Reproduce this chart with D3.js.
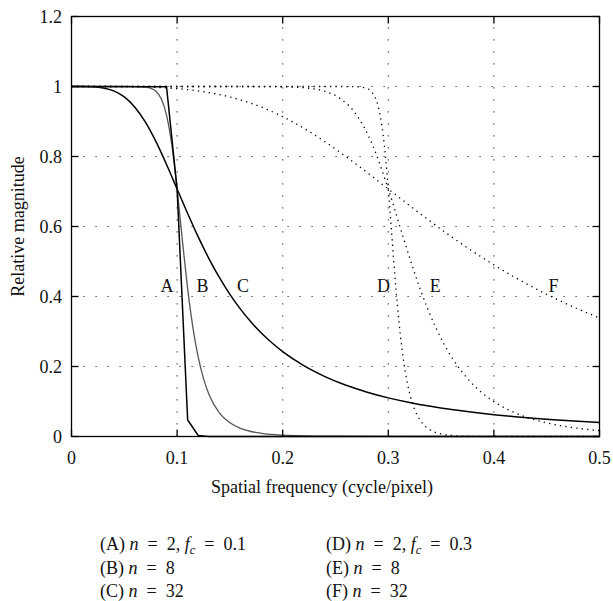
<!DOCTYPE html>
<html><head><meta charset="utf-8">
<script src="https://cdn.jsdelivr.net/npm/d3@7"></script>
<style>
html,body{margin:0;padding:0;background:#fff;}
svg text{font-family:"Liberation Serif","DejaVu Serif",serif;fill:#111;}
</style></head>
<body><svg id="c" width="613" height="601"></svg>
<script>
// ---- data ----
const xTicks = [0, 0.1, 0.2, 0.3, 0.4, 0.5];
const xTickLabels = ["0", "0.1", "0.2", "0.3", "0.4", "0.5"];
const yTicks = [0, 0.2, 0.4, 0.6, 0.8, 1.0, 1.2];
const yTickLabels = ["0", "0.2", "0.4", "0.6", "0.8", "1", "1.2"];

const freqA = [0, 0.09, 0.10, 0.11, 0.12, 0.13, 0.5];
const magA  = [1, 0.9994, 0.7071, 0.0473, 0.0029, 0.0002, 0];

const freqB = [0, 0.05, 0.06, 0.07, 0.075, 0.08, 0.085, 0.09, 0.095, 0.1, 0.105, 0.11, 0.115, 0.12, 0.125, 0.13, 0.14, 0.15, 0.16, 0.17, 0.18, 0.2, 0.22, 0.25, 0.3, 0.4, 0.5];
const magB  = [1, 1, 0.9999, 0.9983, 0.9950, 0.9862, 0.9648, 0.9185, 0.8333, 0.7071, 0.5605, 0.4227, 0.3107, 0.2266, 0.1655, 0.1217, 0.0676, 0.0390, 0.0233, 0.0143, 0.0091, 0.0039, 0.0018, 0.0007, 0.0002, 0, 0];

const freqC = [0, 0.01, 0.02, 0.03, 0.04, 0.05, 0.06, 0.07, 0.08, 0.09, 0.10, 0.11, 0.12, 0.13, 0.14, 0.15, 0.16, 0.17, 0.18, 0.19, 0.20, 0.22, 0.24, 0.26, 0.28, 0.30, 0.32, 0.34, 0.36, 0.38, 0.40, 0.42, 0.44, 0.46, 0.48, 0.50];
const magC  = [1, 1, 0.9992, 0.9960, 0.9874, 0.9701, 0.9409, 0.8980, 0.8423, 0.7771, 0.7071, 0.6372, 0.5704, 0.5092, 0.4545, 0.4061, 0.3639, 0.3270, 0.2949, 0.2670, 0.2425, 0.2023, 0.1711, 0.1463, 0.1266, 0.1104, 0.0972, 0.0862, 0.0769, 0.0691, 0.0624, 0.0566, 0.0516, 0.0472, 0.0434, 0.0400];

const freqD = [0, 0.25, 0.27, 0.28, 0.285, 0.29, 0.295, 0.2975, 0.3, 0.3025, 0.305, 0.31, 0.315, 0.32, 0.325, 0.33, 0.34, 0.35, 0.36, 0.38, 0.4, 0.5];
const magD  = [1, 1, 0.9994, 0.9940, 0.9817, 0.9475, 0.8637, 0.7942, 0.7071, 0.6085, 0.5077, 0.3305, 0.2054, 0.1258, 0.0770, 0.0473, 0.0182, 0.0072, 0.0029, 0.0005, 0.0001, 0];

const freqE = [0, 0.15, 0.18, 0.21, 0.225, 0.24, 0.255, 0.27, 0.285, 0.3, 0.315, 0.33, 0.345, 0.36, 0.375, 0.39, 0.405, 0.42, 0.435, 0.45, 0.465, 0.48, 0.5];
const magE  = [1, 1, 0.9999, 0.9983, 0.9950, 0.9862, 0.9648, 0.9185, 0.8333, 0.7071, 0.5605, 0.4227, 0.3107, 0.2266, 0.1655, 0.1217, 0.0903, 0.0676, 0.0511, 0.0390, 0.0300, 0.0233, 0.0169];

const freqF = [0, 0.03, 0.06, 0.09, 0.12, 0.15, 0.18, 0.21, 0.24, 0.27, 0.3, 0.33, 0.36, 0.39, 0.42, 0.45, 0.48, 0.5];
const magF  = [1, 1, 0.9992, 0.9960, 0.9874, 0.9701, 0.9409, 0.8980, 0.8423, 0.7771, 0.7071, 0.6372, 0.5704, 0.5092, 0.4545, 0.4061, 0.3639, 0.3387];

const curveLabels = ["A", "B", "C", "D", "E", "F"];
const curveLabelX = [0.0905, 0.124, 0.1625, 0.2955, 0.3445, 0.4565];
const curveLabelY = 0.4;

const EQ = "\u2002=\u2002";
const legendLeft = [["(A) ", "n", EQ + "2, ", "f", "c", EQ + "0.1"], ["(B) ", "n", EQ + "8"], ["(C) ", "n", EQ + "32"]];
const legendRight = [["(D) ", "n", EQ + "2, ", "f", "c", EQ + "0.3"], ["(E) ", "n", EQ + "8"], ["(F) ", "n", EQ + "32"]];

// ---- layout ----
const svg = d3.select("#c");
const L = 71.5, R = 599.5, T = 16.5, B = 436.5;
const x = d3.scaleLinear().domain([0, 0.5]).range([L, R]);
const y = d3.scaleLinear().domain([0, 1.2]).range([B, T]);

// grid
const grid = svg.append("g").attr("stroke", "#333").attr("stroke-width", 1.1).attr("stroke-dasharray", "1.2,10.8");
xTicks.slice(1, -1).forEach(v => grid.append("line").attr("x1", x(v)).attr("x2", x(v)).attr("y1", B).attr("y2", T));
yTicks.slice(0, -1).forEach(v => grid.append("line").attr("y1", y(v)).attr("y2", y(v)).attr("x1", L).attr("x2", R));

// curves
function series(fr, mg) { return fr.map((f, i) => [f, mg[i]]); }
const lineLin = d3.line().x(d => x(d[0])).y(d => y(d[1]));
const lineSm = d3.line().x(d => x(d[0])).y(d => y(d[1])).curve(d3.curveMonotoneX);
const g = svg.append("g").attr("fill", "none");
g.append("path").attr("d", lineSm(series(freqF, magF))).attr("stroke", "#000").attr("stroke-width", 1.3).attr("stroke-dasharray", "1.3,4.2");
g.append("path").attr("d", lineSm(series(freqE, magE))).attr("stroke", "#000").attr("stroke-width", 1.3).attr("stroke-dasharray", "1.3,4.2");
g.append("path").attr("d", lineSm(series(freqD, magD))).attr("stroke", "#000").attr("stroke-width", 1.3).attr("stroke-dasharray", "1.3,4.2");
g.append("path").attr("d", lineSm(series(freqC, magC))).attr("stroke", "#000").attr("stroke-width", 1.5);
g.append("path").attr("d", lineSm(series(freqB, magB))).attr("stroke", "#555").attr("stroke-width", 1.3);
g.append("path").attr("d", lineLin(series(freqA, magA))).attr("stroke", "#000").attr("stroke-width", 1.5);

// frame
svg.append("rect").attr("x", L).attr("y", T).attr("width", R - L).attr("height", B - T)
  .attr("fill", "none").attr("stroke", "#000").attr("stroke-width", 1.3);

// ticks (inside)
const tk = svg.append("g").attr("stroke", "#000").attr("stroke-width", 1.3);
xTicks.forEach(v => {
  tk.append("line").attr("x1", x(v)).attr("x2", x(v)).attr("y1", B).attr("y2", B - 7);
  tk.append("line").attr("x1", x(v)).attr("x2", x(v)).attr("y1", T).attr("y2", T + 7);
});
yTicks.forEach(v => {
  tk.append("line").attr("y1", y(v)).attr("y2", y(v)).attr("x1", L).attr("x2", L + 7);
  tk.append("line").attr("y1", y(v)).attr("y2", y(v)).attr("x1", R).attr("x2", R - 7);
});

// tick labels
xTicks.forEach((v, i) => svg.append("text").attr("x", x(v)).attr("y", 464).attr("text-anchor", "middle")
  .attr("font-size", 18).text(xTickLabels[i]));
yTicks.forEach((v, i) => svg.append("text").attr("x", 62).attr("y", y(v) + 6).attr("text-anchor", "end")
  .attr("font-size", 18).text(yTickLabels[i]));

// axis titles
svg.append("text").attr("x", 322).attr("y", 493).attr("text-anchor", "middle").attr("font-size", 18)
  .text("Spatial frequency (cycle/pixel)");
svg.append("text").attr("transform", `translate(24,${(T + B) / 2}) rotate(-90)`).attr("text-anchor", "middle")
  .attr("font-size", 18).text("Relative magnitude");

// curve labels
curveLabels.forEach((s, i) => svg.append("text").attr("x", x(curveLabelX[i])).attr("y", y(curveLabelY) - 5)
  .attr("text-anchor", "middle").attr("font-size", 18).text(s));

// legend
function legendRow(xp, yp, parts) {
  const t = svg.append("text").attr("x", xp).attr("y", yp).attr("font-size", 18);
  parts.forEach((p, j) => {
    const ts = t.append("tspan").text(p);
    if (p === "n" || p === "f") ts.attr("font-style", "italic");
    if (p === "c") ts.attr("font-style", "italic").attr("font-size", 12.5).attr("dy", 4);
    if (j > 0 && parts[j - 1] === "c") ts.attr("dy", -4);
  });
}
legendLeft.forEach((r, i) => legendRow(100, 550 + i * 23.5, r));
legendRight.forEach((r, i) => legendRow(326, 550 + i * 23.5, r));
</script>
</body></html>
